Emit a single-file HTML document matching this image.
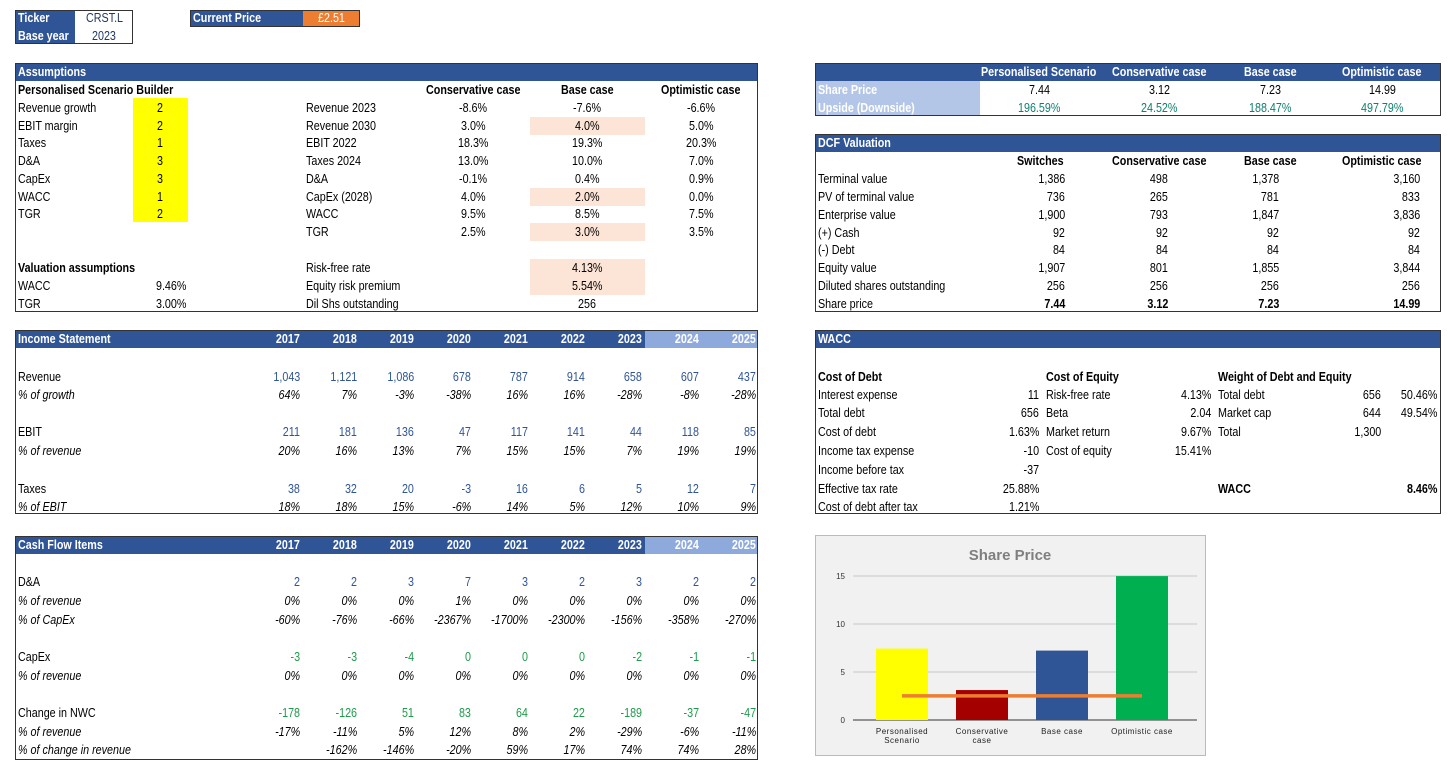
<!DOCTYPE html>
<html><head><meta charset="utf-8">
<style>
body{margin:0;width:1456px;height:768px;background:#fff;position:relative;overflow:hidden;font-family:"Liberation Sans",sans-serif;font-size:12.5px;color:#000}
.b{position:absolute;box-sizing:border-box}
.c{position:absolute;height:16px;line-height:16px;white-space:nowrap}
</style></head><body>
<div id="bg"></div>
<svg id="chart" style="position:absolute;left:815px;top:535px" width="391" height="221"></svg>
<div id="cells"></div>
<script>
const root=document.getElementById('bg');
function rect(x,y,w,h,style,name){const d=document.createElement('div');d.className='b';d.style.cssText=`left:${x}px;top:${y}px;width:${w}px;height:${h}px;`+style;


root.appendChild(d);return d;}
const H='background:#2F5597;';
rect(15,10,60,17,H,'ticker-label-bg');rect(15,27,60,17,H,'base-year-label-bg');
rect(15,10,118,34,'border:1.5px solid #333','ticker-box');
rect(190,10,113,17,H,'current-price-label-bg');rect(303,10,57,17,'background:#ED7D31;','current-price-value-bg');
rect(190,10,170,17,'border:1.5px solid #333','current-price-box');
rect(15,63,743,18,H,'assumptions-header');
rect(133,98,55,124,'background:#FFFF00;','scenario-switches-bg');
[[126],[197],[232]].forEach(r=>{rect(530,r[0]-9,115,18,'background:#FCE4D6;','peach-cell');});
rect(530,259,115,36,'background:#FCE4D6;','peach-cell');
rect(15,63,743,249,'border:1.5px solid #333','assumptions-box');
rect(15,330,743,18,H,'income-header');rect(645,330,113,18,'background:#8EA9DB;','forecast-header');
rect(15,330,743,184,'border:1.5px solid #333','income-box');
rect(15,536,743,18,H,'cashflow-header');rect(645,536,113,18,'background:#8EA9DB;','forecast-header');
rect(15,536,743,224,'border:1.5px solid #333','cashflow-box');
rect(815,63,626,18,H,'summary-header');rect(815,81,165,35,'background:#B4C6E7;','summary-label-bg');
rect(815,63,626,53,'border:1.5px solid #333','summary-box');
rect(815,134,626,18,H,'dcf-header');rect(815,134,626,178,'border:1.5px solid #333','dcf-box');
rect(815,330,626,18,H,'wacc-header');rect(815,330,626,184,'border:1.5px solid #333','wacc-box');

const cells=document.getElementById('cells');
const SX=0.86;
function t(x,y,s,a,st,name){const d=document.createElement('div');d.className='c';d.textContent=s;
let css=`top:${y-8}px;`;
if(a==='r')css+=`right:${1456-x}px;transform:scaleX(${SX});transform-origin:right center;`;
else if(a==='c')css+=`left:${x}px;transform:translateX(-50%) scaleX(${SX});transform-origin:left center;`;
else css+=`left:${x}px;transform:scaleX(${SX});transform-origin:left center;`;
d.style.cssText=css+(st||'');


cells.appendChild(d);
if(a==='c'){const w=d.offsetWidth;d.style.left=(x-w*SX/2)+'px';d.style.transform=`scaleX(${SX})`;}}
const W='color:#fff;font-weight:bold;',B='font-weight:bold;',I='font-style:italic;',BL='color:#2F5597;',GR='color:#1E9A4A;',TE='color:#0E8070;';
t(18,18,'Ticker','l',W,'ticker-label');t(104,18,'CRST.L','c','color:#1F3864;','ticker-value');
t(18,36,'Base year','l',W,'base-year-label');t(104,36,'2023','c','color:#1F3864;','base-year-value');
t(193,18,'Current Price','l',W,'current-price-label');t(331,18,'£2.51','c','color:#fff;','current-price-value');
t(18,72,'Assumptions','l',W,'assumptions-title');
t(18,90,'Personalised Scenario Builder','l',B,'scenario-builder-title');
t(473,90,'Conservative case','c',B);t(587,90,'Base case','c',B);t(701,90,'Optimistic case','c',B);
const aL=['Revenue growth','EBIT margin','Taxes','D&A','CapEx','WACC','TGR'],aV=['2','2','1','3','3','1','2'];
const ay=[108,126,143,161,179,197,214,232];
aL.forEach((l,i)=>{t(18,ay[i],l,'l','','assumption-label');t(160,ay[i],aV[i],'c','','scenario-switch');});
const mL=['Revenue 2023','Revenue 2030','EBIT 2022','Taxes 2024','D&A','CapEx (2028)','WACC','TGR'];
const mC=['-8.6%','3.0%','18.3%','13.0%','-0.1%','4.0%','9.5%','2.5%'],mB=['-7.6%','4.0%','19.3%','10.0%','0.4%','2.0%','8.5%','3.0%'],mO=['-6.6%','5.0%','20.3%','7.0%','0.9%','0.0%','7.5%','3.5%'];
mL.forEach((l,i)=>{t(306,ay[i],l,'l');t(473,ay[i],mC[i],'c');t(587,ay[i],mB[i],'c');t(701,ay[i],mO[i],'c');});
t(18,268,'Valuation assumptions','l',B);t(18,286,'WACC');t(186,286,'9.46%','r');t(18,304,'TGR');t(186,304,'3.00%','r');
t(306,268,'Risk-free rate');t(587,268,'4.13%','c');t(306,286,'Equity risk premium');t(587,286,'5.54%','c');t(306,304,'Dil Shs outstanding');t(587,304,'256','c');
const yrs=['2017','2018','2019','2020','2021','2022','2023','2024','2025'];
const yx=yrs.map((_,i)=>300+57*i);
function row(y,label,vals,st,lst){t(18,y,label,'l',lst||'');vals.forEach((v,i)=>{if(v!=='')t(yx[i],y,v,'r',st);});}
t(18,339,'Income Statement','l',W);yrs.forEach((v,i)=>t(yx[i],339,v,'r',W));
row(377,'Revenue',['1,043','1,121','1,086','678','787','914','658','607','437'],BL);
row(395,'% of growth',['64%','7%','-3%','-38%','16%','16%','-28%','-8%','-28%'],I,I);
row(432,'EBIT',['211','181','136','47','117','141','44','118','85'],BL);
row(451,'% of revenue',['20%','16%','13%','7%','15%','15%','7%','19%','19%'],I,I);
row(489,'Taxes',['38','32','20','-3','16','6','5','12','7'],BL);
row(507,'% of EBIT',['18%','18%','15%','-6%','14%','5%','12%','10%','9%'],I,I);
t(18,545,'Cash Flow Items','l',W);yrs.forEach((v,i)=>t(yx[i],545,v,'r',W));
row(582,'D&A',['2','2','3','7','3','2','3','2','2'],BL);
row(601,'% of revenue',['0%','0%','0%','1%','0%','0%','0%','0%','0%'],I,I);
row(620,'% of CapEx',['-60%','-76%','-66%','-2367%','-1700%','-2300%','-156%','-358%','-270%'],I,I);
row(657,'CapEx',['-3','-3','-4','0','0','0','-2','-1','-1'],GR);
row(676,'% of revenue',['0%','0%','0%','0%','0%','0%','0%','0%','0%'],I,I);
row(713,'Change in NWC',['-178','-126','51','83','64','22','-189','-37','-47'],GR);
row(732,'% of revenue',['-17%','-11%','5%','12%','8%','2%','-29%','-6%','-11%'],I,I);
row(750,'% of change in revenue',['','-162%','-146%','-20%','59%','17%','74%','74%','28%'],I,I);
const sc=[1039,1159,1270,1382];
['Personalised Scenario','Conservative case','Base case','Optimistic case'].forEach((s,i)=>t(sc[i],72,s,'c',W));
t(818,90,'Share Price','l',W);t(818,108,'Upside (Downside)','l',W);
['7.44','3.12','7.23','14.99'].forEach((s,i)=>t(sc[i],90,s,'c'));
['196.59%','24.52%','188.47%','497.79%'].forEach((s,i)=>t(sc[i],108,s,'c',TE));
t(818,143,'DCF Valuation','l',W);
const dx=[1065,1168,1279,1420];
[['Switches',1040],['Conservative case',1159],['Base case',1270],['Optimistic case',1382]].forEach(a=>t(a[1],161,a[0],'c',B));
const dL=['Terminal value','PV of terminal value','Enterprise value','(+) Cash','(-) Debt','Equity value','Diluted shares outstanding','Share price'];
const dV=[['1,386','498','1,378','3,160'],['736','265','781','833'],['1,900','793','1,847','3,836'],['92','92','92','92'],['84','84','84','84'],['1,907','801','1,855','3,844'],['256','256','256','256'],['7.44','3.12','7.23','14.99']];
dL.forEach((l,i)=>{const y=179+17.85*i;t(818,y,l);dV[i].forEach((v,j)=>t(dx[j],y,v,'r',i===7?B:''));});
t(818,339,'WACC','l',W);
const wy=[377,395,413,432,451,470,489,507];
t(818,377,'Cost of Debt','l',B);t(1046,377,'Cost of Equity','l',B);t(1218,377,'Weight of Debt and Equity','l',B);
[['Interest expense','11'],['Total debt','656'],['Cost of debt','1.63%'],['Income tax expense','-10'],['Income before tax','-37'],['Effective tax rate','25.88%'],['Cost of debt after tax','1.21%']].forEach((a,i)=>{t(818,wy[i+1],a[0]);t(1039,wy[i+1],a[1],'r');});
[['Risk-free rate','4.13%'],['Beta','2.04'],['Market return','9.67%'],['Cost of equity','15.41%']].forEach((a,i)=>{t(1046,wy[i+1],a[0]);t(1211,wy[i+1],a[1],'r');});
[['Total debt','656','50.46%'],['Market cap','644','49.54%'],['Total','1,300','']].forEach((a,i)=>{t(1218,wy[i+1],a[0]);t(1381,wy[i+1],a[1],'r');if(a[2])t(1437,wy[i+1],a[2],'r');});
t(1218,489,'WACC','l',B);t(1437,489,'8.46%','r',B);

const cats=['Personalised Scenario','Conservative case','Base case','Optimistic case'];
const catLines=[['Personalised','Scenario'],['Conservative','case'],['Base case'],['Optimistic case']];
const prices=[7.44,3.12,7.23,14.99];
const currentPrice=[2.51];
const ticks=[0,5,10,15];
const colors=['#FFFF00','#A50000','#2F5597','#00B050'];
const svg=document.getElementById('chart');const NS='http://www.w3.org/2000/svg';
function el(tag,attrs,name){const e=document.createElementNS(NS,tag);for(const k in attrs)e.setAttribute(k,attrs[k]);


svg.appendChild(e);return e;}
el('rect',{x:0.5,y:0.5,width:390,height:220,fill:'#F0F1F0',stroke:'#BBBBBB'},'chart-background');
const t0=el('text',{x:195,y:25,'text-anchor':'middle','font-size':15,'font-weight':'bold',fill:'#7F7F7F','font-family':'Liberation Sans'},'chart-title');t0.textContent='Share Price';
const px0=47,px1=367,gx0=38,gx1=382,py0=185,py1=41;
const yS=v=>py0-(v-0)/(15-0)*(py0-py1);
const band=(px1-px0)/cats.length;const xS=i=>px0+band*(i+0.5);
ticks.forEach(v=>{el('line',{x1:gx0,x2:gx1,y1:yS(v),y2:yS(v),stroke:v===0?'#333':'#C8C8C8','stroke-width':1},'gridline');
const tl=el('text',{x:30,y:yS(v)+3,'text-anchor':'end','font-size':8,fill:'#333','font-family':'Liberation Sans'},'y-tick-label');tl.textContent=v;});
const bw=52;
prices.forEach((v,i)=>{el('rect',{x:xS(i)-bw/2,y:yS(v),width:bw,height:yS(0)-yS(v),fill:colors[i]},'bar-'+i);
catLines[i].forEach((ln,k)=>{const tx=el('text',{x:xS(i),y:py0+14+k*9,'text-anchor':'middle','font-size':8,fill:'#222','font-family':'Liberation Sans','letter-spacing':'0.5'},'x-tick-label');tx.textContent=ln;});});
el('line',{x1:xS(0),x2:xS(3),y1:yS(currentPrice[0]),y2:yS(currentPrice[0]),stroke:'#ED7D31','stroke-width':3.5},'current-price-line');
</script>
</body></html>
